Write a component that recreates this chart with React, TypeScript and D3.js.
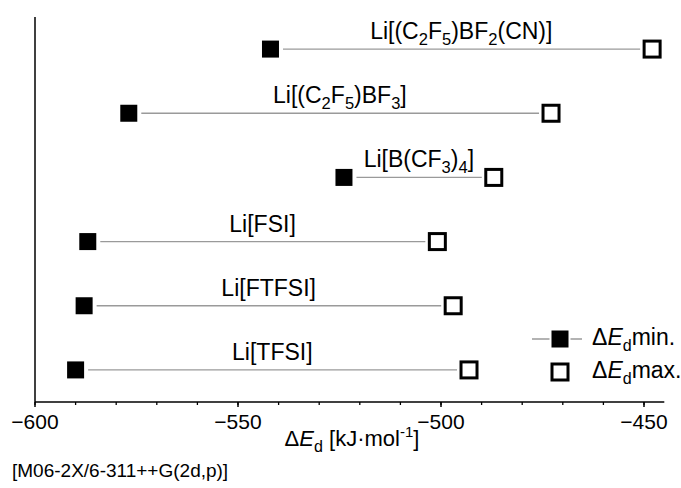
import React from "react";
import * as d3 from "d3";

const categories = [
  "Li[(C2F5)BF2(CN)]",
  "Li[(C2F5)BF3]",
  "Li[B(CF3)4]",
  "Li[FSI]",
  "Li[FTFSI]",
  "Li[TFSI]",
];
const minValues = [-542.0, -576.9, -523.9, -587.0, -587.9, -590.0];
const maxValues = [-448.0, -472.9, -487.0, -500.9, -497.0, -493.1];
const xTicks = [-600, -550, -500, -450];
const minorTicks = d3.range(-600, -445, 10);

const W = 681;
const H = 488;
const FONT = "'Liberation Sans', Arial, sans-serif";

function Chem({ text, x, y, size }: { text: string; x: number; y: number; size: number }) {
  // digits rendered as subscripts
  const parts: { s: string; sub: boolean }[] = [];
  for (const ch of text) {
    const sub = /[0-9]/.test(ch);
    const last = parts[parts.length - 1];
    if (last && last.sub === sub) last.s += ch;
    else parts.push({ s: ch, sub });
  }
  let prevSub = false;
  return (
    <text x={x} y={y} textAnchor="middle" fontSize={size} fontFamily={FONT} fill="#000">
      {parts.map((p, i) => {
        const dy = p.sub && !prevSub ? 6 : !p.sub && prevSub ? -6 : 0;
        prevSub = p.sub;
        return (
          <tspan key={i} dy={dy} fontSize={p.sub ? size * 0.72 : size}>
            {p.s}
          </tspan>
        );
      })}
    </text>
  );
}

export default function App() {
  const x = d3.scaleLinear().domain([-600, -445]).range([35, 664.3]);
  const y = d3.scalePoint<string>().domain(categories).range([17, 402]).padding(0.5);
  const axisY = 402;
  const fs = 17;
  const os = 16;

  return (
    <div style={{ position: "absolute", left: 0, top: 0 }}>
      <svg width={W} height={H} style={{ display: "block", background: "#fff" }}>
        {/* rows */}
        {categories.map((c, i) => {
          const yy = y(c)!;
          const x1 = x(minValues[i]);
          const x2 = x(maxValues[i]);
          return (
            <g key={c}>
              <line x1={x1 + fs / 2 + 4} x2={x2 - os / 2 - 4} y1={yy} y2={yy} stroke="#9a9a9a" strokeWidth={1.3} />
              <rect x={x1 - fs / 2} y={yy - fs / 2} width={fs} height={fs} fill="#000" />
              <rect x={x2 - os / 2} y={yy - os / 2} width={os} height={os} fill="#fff" stroke="#000" strokeWidth={3} />
              <Chem text={c} x={(x1 + x2) / 2} y={yy - 10} size={23} />
            </g>
          );
        })}

        {/* axes */}
        <line x1={35} x2={35} y1={17} y2={axisY} stroke="#000" strokeWidth={1.5} />
        <line x1={35} x2={664.3} y1={axisY} y2={axisY} stroke="#000" strokeWidth={1.5} />
        {minorTicks.map((t) => (
          <line key={"m" + t} x1={x(t)} x2={x(t)} y1={axisY} y2={axisY + 3} stroke="#000" strokeWidth={1.3} />
        ))}
        {xTicks.map((t) => (
          <g key={t}>
            <line x1={x(t)} x2={x(t)} y1={axisY} y2={axisY + 5} stroke="#000" strokeWidth={1.5} />
            <text x={x(t)} y={429} textAnchor="middle" fontSize={21} fontFamily={FONT}>
              {"\u2212" + Math.abs(t)}
            </text>
          </g>
        ))}

        {/* x title */}
        <text x={352} y={446} textAnchor="middle" fontSize={22} fontFamily={FONT}>
          <tspan>Δ</tspan>
          <tspan fontStyle="italic">E</tspan>
          <tspan fontSize={16} dy={6}>d</tspan>
          <tspan dy={-6}> [kJ·mol</tspan>
          <tspan fontSize={15} dy={-9}>-1</tspan>
          <tspan dy={9}>]</tspan>
        </text>
        <text x={12} y={477} fontSize={19} fontFamily={FONT}>
          [M06-2X/6-311++G(2d,p)]
        </text>

        {/* legend */}
        <line x1={532} x2={582} y1={339} y2={339} stroke="#9a9a9a" strokeWidth={1.3} />
        <rect x={560 - 9} y={339 - 9} width={18} height={18} fill="#000" stroke="#fff" strokeWidth={3} />
        <rect x={560 - fs / 2} y={339 - fs / 2} width={fs} height={fs} fill="#000" />
        <rect x={560 - os / 2} y={372 - os / 2} width={os} height={os} fill="#fff" stroke="#000" strokeWidth={3} />
        <text x={592} y={345} fontSize={23} fontFamily={FONT}>
          <tspan>Δ</tspan>
          <tspan fontStyle="italic">E</tspan>
          <tspan fontSize={16} dy={6}>d</tspan>
          <tspan dy={-6}>min.</tspan>
        </text>
        <text x={592} y={378} fontSize={23} fontFamily={FONT}>
          <tspan>Δ</tspan>
          <tspan fontStyle="italic">E</tspan>
          <tspan fontSize={16} dy={6}>d</tspan>
          <tspan dy={-6}>max.</tspan>
        </text>
      </svg>
    </div>
  );
}
